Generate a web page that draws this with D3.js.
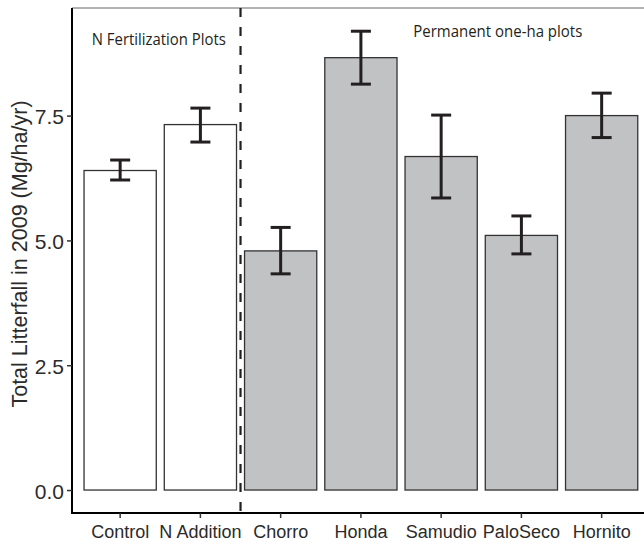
<!DOCTYPE html>
<html>
<head>
<meta charset="utf-8">
<script src="https://cdn.jsdelivr.net/npm/d3@7"></script>
<style>
  html, body { margin: 0; padding: 0; background: #fff; }
  svg { display: block; }
</style>
</head>
<body>
<svg id="chart" width="644" height="542"></svg>
<script>
// ---- data ----
const categories = ["Control", "N Addition", "Chorro", "Honda", "Samudio", "PaloSeco", "Hornito"];
const groups     = ["N", "N", "P", "P", "P", "P", "P"];
const litterfall = [6.40, 7.32, 4.79, 8.66, 6.68, 5.10, 7.50];
const errLow     = [6.21, 6.97, 4.33, 8.13, 5.85, 4.73, 7.06];
const errHigh    = [6.61, 7.65, 5.26, 9.19, 7.51, 5.49, 7.95];
const yTicks     = [0, 2.5, 5, 7.5];
const yTitle     = "Total Litterfall in 2009 (Mg/ha/yr)";
const groupLabels = ["N Fertilization Plots", "Permanent one-ha plots"];

const data = categories.map((c, i) => ({
  cat: c, group: groups[i], value: litterfall[i], lo: errLow[i], hi: errHigh[i]
}));

// ---- layout ----
const svg = d3.select("#chart");
const mLeft = 72, mBottom = 513, mTop = 8, mRight = 649.8;

const x = d3.scaleBand()
  .domain(categories)
  .range([mLeft, mRight])
  .paddingInner(0.1)
  .paddingOuter(0.15);

const y = d3.scaleLinear()
  .domain([-0.46, 9.655])
  .range([mBottom, mTop]);

const ink = "#231f20";

// top border
svg.append("line")
  .attr("x1", mLeft).attr("x2", 644)
  .attr("y1", mTop).attr("y2", mTop)
  .attr("stroke", "#666").attr("stroke-width", 1);

// bars
svg.append("g").selectAll("rect")
  .data(data).join("rect")
  .attr("x", d => x(d.cat))
  .attr("width", x.bandwidth())
  .attr("y", d => y(d.value))
  .attr("height", d => y(0) - y(d.value))
  .attr("fill", d => d.group === "N" ? "#ffffff" : "#c1c2c4")
  .attr("stroke", "#333")
  .attr("stroke-width", 1.3);

// error bars
const eb = svg.append("g").attr("stroke", ink).attr("stroke-width", 3).attr("fill", "none");
const capW = 20;
data.forEach(d => {
  const cx = x(d.cat) + x.bandwidth() / 2;
  eb.append("line").attr("x1", cx).attr("x2", cx).attr("y1", y(d.lo)).attr("y2", y(d.hi));
  eb.append("line").attr("x1", cx - capW / 2).attr("x2", cx + capW / 2).attr("y1", y(d.lo)).attr("y2", y(d.lo));
  eb.append("line").attr("x1", cx - capW / 2).attr("x2", cx + capW / 2).attr("y1", y(d.hi)).attr("y2", y(d.hi));
});

// dashed separator between groups
const sepX = (x("N Addition") + x.bandwidth() + x("Chorro")) / 2;
svg.append("line")
  .attr("x1", sepX).attr("x2", sepX)
  .attr("y1", mTop).attr("y2", mBottom)
  .attr("stroke", ink).attr("stroke-width", 2.2)
  .attr("stroke-dasharray", "9,10");

// y axis
const yAxis = svg.append("g")
  .attr("transform", `translate(${mLeft},0)`)
  .call(d3.axisLeft(y).tickValues(yTicks).tickFormat(d3.format(".1f")).tickSize(5).tickPadding(3));
yAxis.select(".domain").attr("d", `M0,${mTop}V${mBottom + 1}`).attr("stroke", "#000").attr("stroke-width", 2);
yAxis.selectAll(".tick line").attr("stroke", "#333").attr("stroke-width", 1.5);
yAxis.selectAll(".tick text")
  .attr("font-family", "Liberation Sans, Arial, sans-serif")
  .attr("font-size", 21).attr("fill", "#2b2b2b").attr("dy", "0.4em");

// x axis
const xAxis = svg.append("g")
  .attr("transform", `translate(0,${mBottom})`)
  .call(d3.axisBottom(x).tickSize(5).tickPadding(4));
xAxis.select(".domain").attr("d", `M${mLeft - 1},0H644`).attr("stroke", "#000").attr("stroke-width", 2);
xAxis.selectAll(".tick line").attr("stroke", "#333").attr("stroke-width", 1.5);
xAxis.selectAll(".tick text")
  .attr("font-family", "Liberation Sans, Arial, sans-serif")
  .attr("font-size", 18).attr("fill", "#2b2b2b").attr("dy", "0.9em");

// y title
svg.append("text")
  .attr("transform", `translate(26.5,254) rotate(-90)`)
  .attr("text-anchor", "middle")
  .attr("font-family", "Liberation Sans, Arial, sans-serif")
  .attr("font-size", 21.5).attr("fill", "#2b2b2b")
  .text(yTitle);

// group annotations
svg.append("text")
  .attr("x", 158.8).attr("y", 45)
  .attr("text-anchor", "middle")
  .attr("font-family", "Open Sans, sans-serif")
  .attr("font-size", 16.5).attr("fill", ink)
  .attr("textLength", 134).attr("lengthAdjust", "spacingAndGlyphs")
  .text(groupLabels[0]);
svg.append("text")
  .attr("x", 497.8).attr("y", 37)
  .attr("text-anchor", "middle")
  .attr("font-family", "Open Sans, sans-serif")
  .attr("font-size", 16.5).attr("fill", ink)
  .attr("textLength", 169).attr("lengthAdjust", "spacingAndGlyphs")
  .text(groupLabels[1]);
</script>
</body>
</html>
